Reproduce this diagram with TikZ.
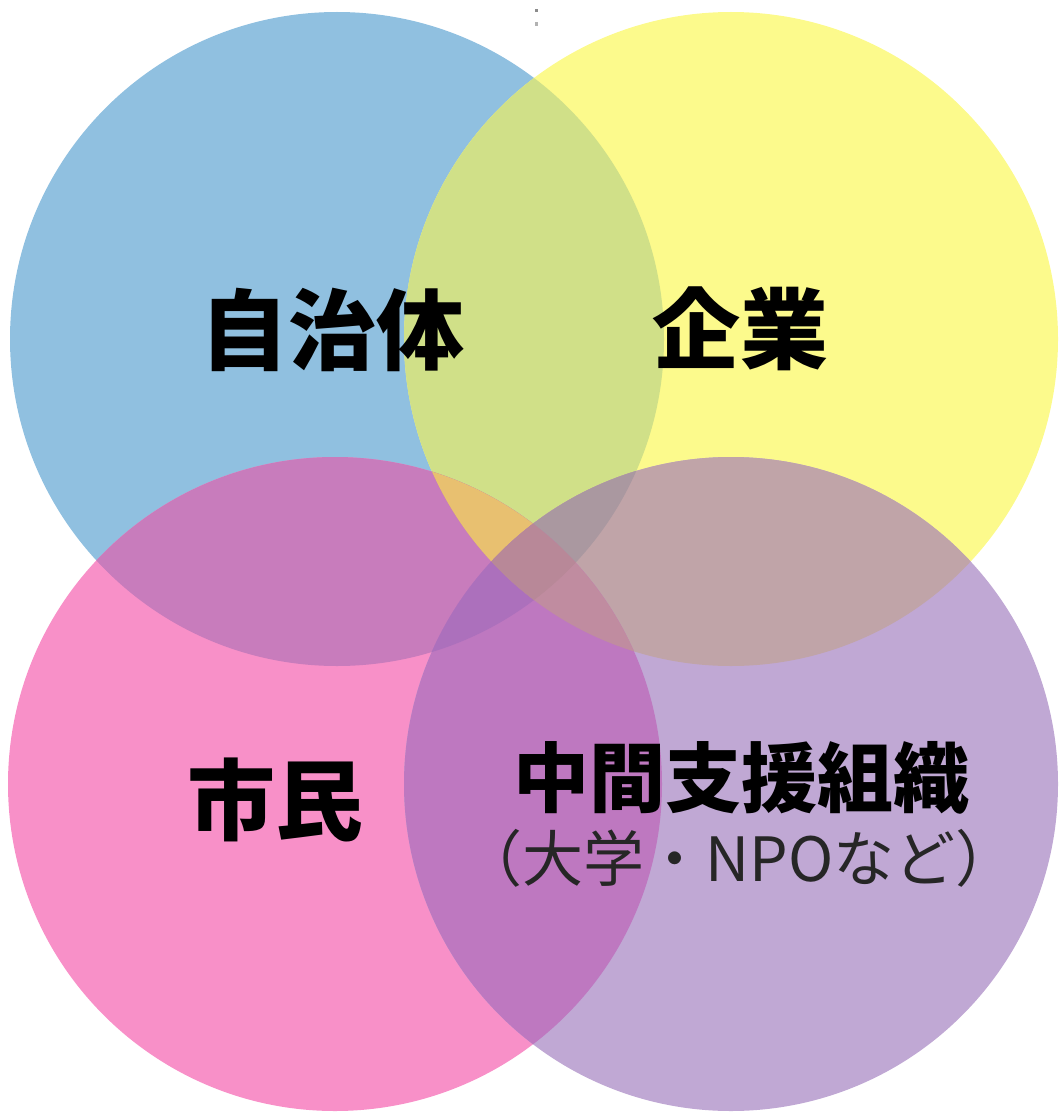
\documentclass[tikz,border=0pt]{standalone}
\usepackage{fontspec}
\newfontfamily\jpfont{Noto Sans CJK JP}
\definecolor{cB}{HTML}{90C0E0}
\definecolor{cY}{HTML}{FCFA8C}
\definecolor{cP}{HTML}{F890C8}
\definecolor{cU}{HTML}{C0A8D4}
\definecolor{cBY}{HTML}{D0E088}
\definecolor{cBP}{HTML}{C87CBC}
\definecolor{cYU}{HTML}{C0A4A8}
\definecolor{cPU}{HTML}{BE78C0}
\definecolor{cBU}{HTML}{AC70BC}
\definecolor{cYP}{HTML}{C08CA0}
\definecolor{cBYP}{HTML}{E8C070}
\definecolor{cBYU}{HTML}{AA98A0}
\definecolor{cBPU}{HTML}{AC70BC}
\definecolor{cYPU}{HTML}{C08CA0}
\definecolor{cBYPU}{HTML}{B88898}
\newcommand\cirB{(337,339) circle[radius=327pt]}
\newcommand\cirY{(731,339) circle[radius=327pt]}
\newcommand\cirP{(335,784) circle[radius=327pt]}
\newcommand\cirU{(731,784) circle[radius=327pt]}
\tikzset{
  biglab/.style={inner sep=0pt, text=black, font=\jpfont\bfseries\fontsize{88}{88}\selectfont},
  midlab/.style={inner sep=0pt, text=black, font=\jpfont\bfseries\fontsize{76}{76}\selectfont},
  sublab/.style={inner sep=0pt, text=black!85, font=\jpfont\fontsize{61}{61}\selectfont}
}
\begin{document}
\begin{tikzpicture}[x=1pt,y=-1pt]
\useasboundingbox (0,0) rectangle (1059,1113);
% single circles
\fill[cB] \cirB;
\fill[cY] \cirY;
\fill[cP] \cirP;
\fill[cU] \cirU;
% pairs
\begin{scope}\clip \cirB; \fill[cBY] \cirY; \end{scope}
\begin{scope}\clip \cirB; \fill[cBP] \cirP; \end{scope}
\begin{scope}\clip \cirB; \fill[cBU] \cirU; \end{scope}
\begin{scope}\clip \cirY; \fill[cYP] \cirP; \end{scope}
\begin{scope}\clip \cirY; \fill[cYU] \cirU; \end{scope}
\begin{scope}\clip \cirP; \fill[cPU] \cirU; \end{scope}
% triples
\begin{scope}\clip \cirB; \clip \cirY; \fill[cBYP] \cirP; \end{scope}
\begin{scope}\clip \cirB; \clip \cirY; \fill[cBYU] \cirU; \end{scope}
\begin{scope}\clip \cirB; \clip \cirP; \fill[cBPU] \cirU; \end{scope}
\begin{scope}\clip \cirY; \clip \cirP; \fill[cYPU] \cirU; \end{scope}
% all four
\begin{scope}\clip \cirB; \clip \cirY; \clip \cirP; \fill[cBYPU] \cirU; \end{scope}
% tiny marks at top
\fill[black!45] (535,9) rectangle (538,12);
\fill[black!30] (535,22) rectangle (538,26);
% labels
\node[biglab] (jichitai) at (332,330) {自治体};
\node[biglab] (kigyou) at (740,329) {企業};
\node[biglab] (shimin) at (275,800) {市民};
\node[midlab] (chukan) at (741,778) {中間支援組織};
\node[sublab] (chukansub) at (739,858) {（大学・NPOなど）};
\end{tikzpicture}
\end{document}
